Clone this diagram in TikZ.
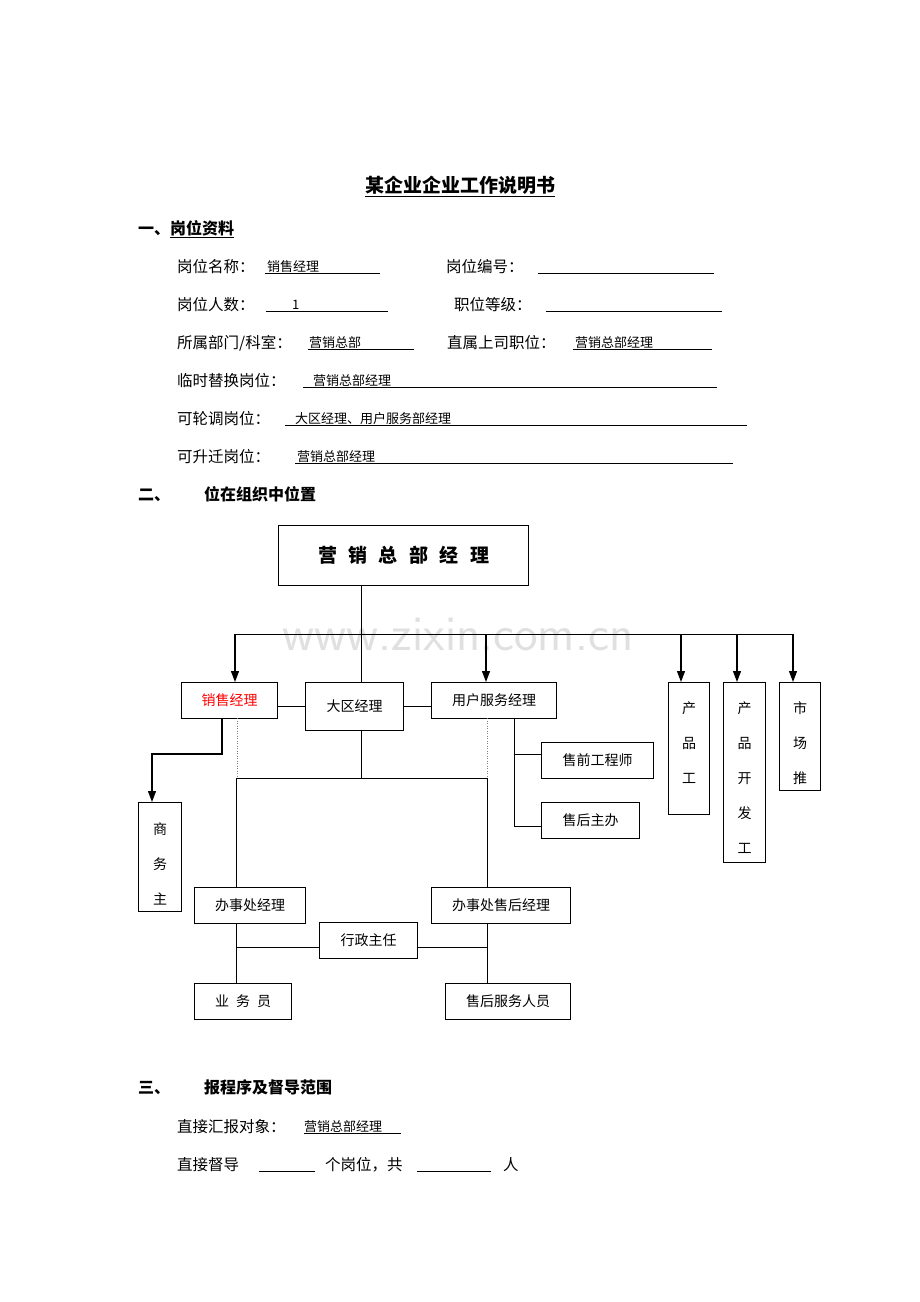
\documentclass[tikz,border=0pt]{standalone}
\usepackage{fontspec}
\setmainfont{Noto Sans CJK SC}
\usetikzlibrary{arrows.meta}
\begin{document}
\begin{tikzpicture}[x=1pt,y=-1pt,
  lbl/.style={anchor=base west,inner sep=0pt,font=\fontsize{15.5}{16}\selectfont},
  val/.style={anchor=base west,inner sep=0pt,font=\fontsize{13}{14}\selectfont},
  head/.style={anchor=base west,inner sep=0pt,font=\fontsize{16}{17}\selectfont\bfseries},
  ul/.style={line width=0.8pt},
  box/.style={draw,line width=1pt,inner sep=0pt,anchor=north west},
  btxt/.style={font=\fontsize{14}{15}\selectfont},
  ln/.style={line width=1pt},
  arr/.style={line width=1.2pt,-{Triangle[length=11pt,width=8pt]}},
  dot/.style={line width=0.5pt,dotted,gray}]
\useasboundingbox (0,0) rectangle (920,1302);
% title
\node[inner sep=0pt,font=\fontsize{19}{20}\selectfont\bfseries] (title) at (460,185) {某企业企业工作说明书};
\draw[ul] (title.south west) ++(0,2) -- ([yshift=-2pt]title.south east);
\node[head] (h1) at (138,234) {一、\underline{岗位资料}};
% row1
\node[lbl] (r1a) at (177,272) {岗位名称：};
\node[val] (r1v) at (267,271) {销售经理};
\draw[ul] (265,273) -- (380,273);
\node[lbl] (r1b) at (446,272) {岗位编号：};
\draw[ul] (538,273) -- (714,273);
% row2
\node[lbl] (r2a) at (177,310) {岗位人数：};
\node[val] (r2v) at (292,309) {1};
\draw[ul] (266,311) -- (388,311);
\node[lbl] (r2b) at (454,310) {职位等级：};
\draw[ul] (546,311) -- (722,311);
% row3
\node[lbl] (r3a) at (177,348) {所属部门/科室：};
\node[val] (r3v) at (309,347) {营销总部};
\draw[ul] (308,349) -- (414,349);
\node[lbl] (r3b) at (447,348) {直属上司职位：};
\node[val] (r3w) at (575,347) {营销总部经理};
\draw[ul] (573,349) -- (712,349);
% row4
\node[lbl] (r4a) at (177,386) {临时替换岗位：};
\node[val] (r4v) at (313,385) {营销总部经理};
\draw[ul] (303,387) -- (717,387);
% row5
\node[lbl] (r5a) at (177,424) {可轮调岗位：};
\node[val] (r5v) at (295,423) {大区经理、用户服务部经理};
\draw[ul] (285,425) -- (747,425);
% row6
\node[lbl] (r6a) at (177,462) {可升迁岗位：};
\node[val] (r6v) at (297,461) {营销总部经理};
\draw[ul] (295,463) -- (733,463);
\node[head] (h2) at (138,500) {二、};
\node[head] (h2b) at (204,500) {位在组织中位置};
% watermark
\node[text=black!12,font=\fontsize{50}{50}\selectfont\sffamily] (wm) at (458,634) {www.zixin.com.cn};
% org chart
\node[box,minimum width=250pt,minimum height=60pt,font=\fontsize{19}{20}\selectfont\bfseries] (top) at (278,525) {营\hspace{0.6em}销\hspace{0.6em}总\hspace{0.6em}部\hspace{0.6em}经\hspace{0.6em}理};
\node[box,minimum width=96pt,minimum height=36pt,btxt,text=red] (xs) at (181,682) {\raisebox{-5pt}{销售经理}};
\node[box,minimum width=98pt,minimum height=48pt,btxt] (dq) at (305,682) {大区经理};
\node[box,minimum width=125pt,minimum height=36pt,btxt] (yh) at (431,682) {\raisebox{-5pt}{用户服务经理}};
\node[box,minimum width=112pt,minimum height=36pt,btxt] (sq) at (541,742) {\raisebox{-6pt}{售前工程师}};
\node[box,minimum width=98pt,minimum height=36pt,btxt] (sh) at (541,802) {\raisebox{-6pt}{售后主办}};
\node[box,minimum width=111pt,minimum height=36pt,btxt] (bs) at (194,887) {\raisebox{-6pt}{办事处经理}};
\node[box,minimum width=139pt,minimum height=36pt,btxt] (bsh) at (431,887) {\raisebox{-6pt}{办事处售后经理}};
\node[box,minimum width=98pt,minimum height=36pt,btxt] (xz) at (319,922) {\raisebox{-6pt}{行政主任}};
\node[box,minimum width=97pt,minimum height=36pt,btxt] (yw) at (194,983) {\raisebox{-6pt}{业\hspace{0.5em}务\hspace{0.5em}员}};
\node[box,minimum width=125pt,minimum height=36pt,btxt] (shr) at (445,983) {\raisebox{-6pt}{售后服务人员}};
% vertical boxes (text clipped)
\node[box,minimum width=43pt,minimum height=109pt] (sw) at (138,802) {};
\node[box,minimum width=41pt,minimum height=132pt] (cp1) at (668,682) {};
\node[box,minimum width=42pt,minimum height=180pt] (cp2) at (723,682) {};
\node[box,minimum width=41pt,minimum height=108pt] (sc) at (779,682) {};
\begin{scope}
\clip (sw.north west) rectangle (sw.south east);
\node[btxt,align=center,anchor=north] (swt) at ([yshift=-17pt]sw.north) {商\\[20pt]务\\[20pt]主};
\end{scope}
\node[btxt,align=center,anchor=north] (cp1t) at ([yshift=-16pt]cp1.north) {产\\[20pt]品\\[20pt]工};
\begin{scope}
\clip (cp2.north west) rectangle (cp2.south east);
\node[btxt,align=center,anchor=north] (cp2t) at ([yshift=-16pt]cp2.north) {产\\[20pt]品\\[20pt]开\\[20pt]发\\[20pt]工};
\end{scope}
\begin{scope}
\clip (sc.north west) rectangle (sc.south east);
\node[btxt,align=center,anchor=north] (sct) at ([yshift=-16pt]sc.north) {市\\[20pt]场\\[20pt]推};
\end{scope}
% connectors
\coordinate (hl) at (235,634); \coordinate (hr) at (793,634);
\draw[ln] (361,585) -- (361,682);
\draw[ln] (hl) -- (hr);
\draw[arr] (hl) -- (235,682);
\draw[arr] (486,634) -- (486,682);
\draw[arr] (681,634) -- (681,682);
\draw[arr] (737,634) -- (737,682);
\draw[arr] (hr) -- (793,682);
\draw[ln] (xs.east |- 0,706) -- (dq.west |- 0,706);
\draw[ln] (dq.east |- 0,706) -- (yh.west |- 0,706);
\draw[dot] (237,718) -- (237,778);
\draw[dot] (487,718) -- (487,778);
\draw[ln] (361,730) -- (361,778);
\draw[ln] (236,887) -- (236,778) -- (487,778) -- (487,887);
\draw[arr] (222,718) -- (222,754) -- (152,754) -- (152,802);
\draw[ln] (514,718) -- (514,826) -- (sh.west |- 0,826);
\draw[ln] (514,754) -- (sq.west |- 0,754);
\draw[ln] (236,923) -- (236,983);
\draw[ln] (487,923) -- (487,983);
\draw[ln] (236,947) -- (xz.west |- 0,947);
\draw[ln] (xz.east |- 0,947) -- (487,947);
% section 3
\node[head] (h3) at (138,1093) {三、};
\node[head] (h3b) at (204,1093) {报程序及督导范围};
\node[lbl] (s1) at (177,1132) {直接汇报对象：};
\node[val] (s1v) at (304,1131) {营销总部经理};
\draw[ul] (304,1133) -- (401,1133);
\node[lbl] (s2) at (177,1170) {直接督导};
\draw[ul] (259,1171) -- (315,1171);
\node[lbl] (s2b) at (325,1170) {个岗位，共};
\draw[ul] (417,1171) -- (491,1171);
\node[lbl] (s2c) at (503,1170) {人};
\end{tikzpicture}
\end{document}
